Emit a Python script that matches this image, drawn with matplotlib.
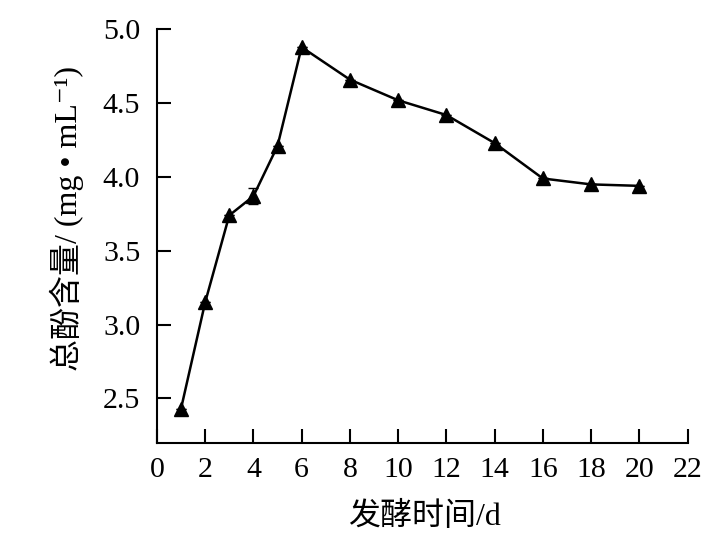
import matplotlib
matplotlib.use("Agg")
import matplotlib.pyplot as plt

days = [1, 2, 3, 4, 5, 6, 8, 10, 12, 14, 16, 18, 20]
phenol = [2.43, 3.15, 3.74, 3.87, 4.21, 4.88, 4.66, 4.52, 4.42, 4.23, 3.99, 3.95, 3.94]
errors = [0.0, 0.0, 0.0, 0.055, 0.0, 0.0, 0.0, 0.0, 0.0, 0.0, 0.0, 0.0, 0.0]
xticks = [0, 2, 4, 6, 8, 10, 12, 14, 16, 18, 20, 22]
yticks = [2.5, 3.0, 3.5, 4.0, 4.5, 5.0]
xlabel = "发酵时间/d"
ylabel = "总酚含量/ (mg • mL⁻¹)"

fam = ["Liberation Serif", "Noto Sans CJK SC", "DejaVu Sans"]
plt.rcParams["font.family"] = fam

fig = plt.figure(figsize=(7.23, 5.51), dpi=100)
ax = fig.add_axes([0.217, 0.1966, 0.734, 0.75])

ax.errorbar(days, phenol, yerr=errors, color="black", lw=1.8, marker="^",
            markersize=9.5, capsize=3.5, elinewidth=1.0, capthick=1.0)

ax.set_xlim(0, 22)
ax.set_ylim(2.2, 5.0)
ax.set_xticks(xticks)
ax.set_yticks(yticks)
ax.set_xticklabels([str(t) for t in xticks])
ax.set_yticklabels([f"{t:.1f}" for t in yticks])

for s in ["top", "right"]:
    ax.spines[s].set_visible(False)
for s in ["left", "bottom"]:
    ax.spines[s].set_linewidth(1.5)

ax.tick_params(axis="both", direction="in", length=10, width=1.5,
               labelsize=21.5, colors="black")
ax.tick_params(axis="y", pad=12)
ax.tick_params(axis="x", pad=10)

fig.text(424 / 723, 1 - 517 / 551, xlabel, ha="center", va="center",
         fontsize=23, family=fam)
fig.text(67 / 723, 1 - 218 / 551, ylabel, ha="center", va="center",
         rotation=90, fontsize=23, family=fam)

fig.savefig("out.png", dpi=100)
